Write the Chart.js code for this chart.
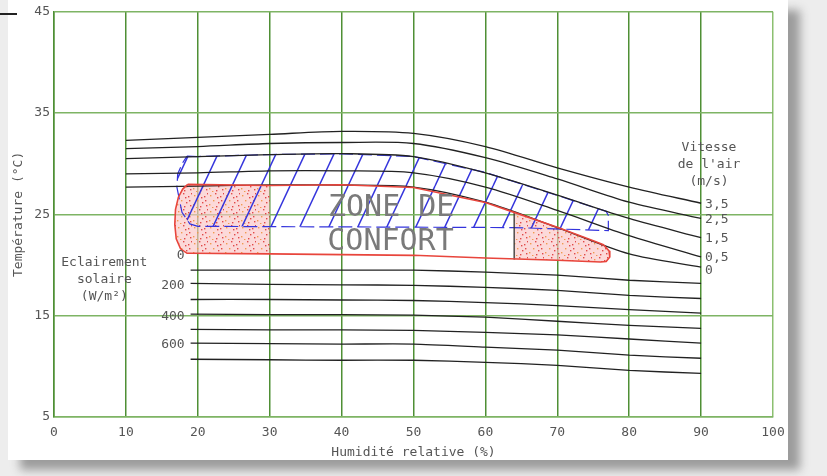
<!DOCTYPE html>
<html>
<head>
<meta charset="utf-8">
<script src="https://cdn.jsdelivr.net/npm/chart.js@4.4.1/dist/chart.umd.min.js"></script>
<style>
  html, body { margin: 0; padding: 0; background: #ededed; }
  #page { position: absolute; left: 8px; top: 0; width: 780px; height: 460px; background: #fff;
          box-shadow: 12px 10px 9px #9c9c9c; }
  #mark { position: absolute; left: 0; top: 13px; width: 17px; height: 2px; background: #222; }
  #wrap { position: absolute; left: 0; top: 0; width: 827px; height: 476px; }
</style>
</head>
<body>
<div id="page"></div>
<div id="mark"></div>
<div id="wrap"><canvas id="bioChart" width="827" height="476"></canvas></div>
<script>
// Humidity positions (%) for the air speed curves
const humidity = [10, 20, 30, 40, 50, 60, 70, 80, 90];
// Upper comfort limit (°C) for each air speed
const speed35 = [32.3, 32.6, 32.9, 33.2, 33.0, 31.7, 29.6, 27.7, 26.1];
const speed25 = [31.5, 31.7, 32.0, 32.1, 32.0, 30.6, 28.5, 26.2, 24.6];
const speed15 = [30.5, 30.7, 30.9, 31.0, 30.7, 29.1, 26.9, 24.6, 22.7];
const speed05 = [29.0, 29.1, 29.3, 29.3, 29.1, 27.7, 25.4, 22.9, 20.8];
const speed0  = [27.7, 27.8, 27.9, 27.9, 27.7, 26.2, 23.7, 21.1, 19.8];
const speedLabels = ['3,5', '2,5', '1,5', '0,5', '0'];

// Lower limit (°C) for each solar radiation level (100 W/m² steps)
const solarX   = [19, 30, 40, 50, 60, 70, 80, 90];
const solar100 = [19.5, 19.5, 19.5, 19.5, 19.3, 19.0, 18.5, 18.2];
const solar200 = [18.2, 18.1, 18.05, 18.0, 17.8, 17.5, 17.0, 16.7];
const solar300 = [16.6, 16.6, 16.55, 16.5, 16.3, 16.0, 15.6, 15.25];
const solar400 = [15.15, 15.1, 15.1, 15.05, 14.85, 14.45, 14.05, 13.75];
const solar500 = [13.65, 13.6, 13.6, 13.55, 13.35, 13.1, 12.7, 12.3];
const solar600 = [12.3, 12.25, 12.2, 12.2, 11.9, 11.6, 11.1, 10.8];
const solar700 = [10.7, 10.65, 10.6, 10.6, 10.4, 10.1, 9.6, 9.3];
const solarLabels = ['0', '200', '400', '600'];

// Comfort zone outline
const comfortX = [18.6, 30, 40, 50, 60, 64, 70, 75, 76.4, 77.2, 77.3, 76.8, 76, 70, 60, 50, 30, 19, 18.5, 17.6, 17.0, 16.8, 16.9, 17.3, 17.9, 18.6];
const comfortT = [27.96, 27.86, 27.93, 27.66, 26.18, 25.2, 23.72, 22.4, 22.0, 21.4, 20.8, 20.35, 20.3, 20.47, 20.7, 20.96, 21.1, 21.16, 21.16, 21.6, 22.6, 24.0, 25.5, 26.7, 27.5, 27.96];
// Dotted parts of the comfort zone
const dryX = [30, 18.6, 17.9, 17.3, 16.9, 16.8, 17.0, 17.6, 18.5, 19, 30, 30];
const dryT = [27.86, 27.96, 27.5, 26.7, 25.5, 24.0, 22.6, 21.6, 21.16, 21.16, 21.1, 27.86];
const wetX = [64, 70, 75, 76.4, 77.2, 77.3, 76.8, 76, 70, 64, 64];
const wetT = [25.2, 23.72, 22.4, 22.0, 21.4, 20.8, 20.35, 20.3, 20.47, 20.56, 25.2];
const dividerX = [64, 64];
const dividerT = [25.2, 20.56];
// Hatched zone (comfort extended by ventilation)
const ventX = [18.5, 20, 30, 40, 50, 60, 70, 76.8, 77.1, 77.1, 64, 20, 18.9, 17.8, 17.1, 17.2, 17.9, 18.5];
const ventT = [30.75, 30.71, 30.91, 30.98, 30.71, 29.14, 26.87, 25.3, 24.9, 23.4, 23.7, 23.82, 24.06, 25.2, 27.66, 29.0, 30.1, 30.75];

const FONT = '"DejaVu Sans Mono", monospace';
const TEXT = '#555';

function pts(xs, ys) { return xs.map((x, i) => ({ x: x, y: ys[i] })); }

function dotPattern() {
    const c = document.createElement('canvas');
    c.width = 16; c.height = 16;
    const g = c.getContext('2d');
    g.fillStyle = 'rgba(250, 196, 196, 0.65)';
    g.fillRect(0, 0, 16, 16);
    const dots = [[2, 3], [7, 1], [12, 4], [5, 8], [10, 10], [14, 13], [1, 12], [8, 14], [13, 8], [4, 15], [9, 5], [15, 1]];
    dots.forEach(([x, y], i) => {
        g.fillStyle = i % 3 === 0 ? '#f09a50' : '#e04a4a';
        g.fillRect(x, y, 1.4, 1.4);
    });
    return g.createPattern(c, 'repeat');
}

function hatchPattern() {
    const w = 29, h = 62;
    const c = document.createElement('canvas');
    c.width = w; c.height = h;
    const g = c.getContext('2d');
    g.strokeStyle = '#3434dc';
    g.lineWidth = 1.5;
    [-1, 0, 1].forEach(k => {
        g.beginPath();
        g.moveTo(k * w, h);
        g.lineTo(k * w + w, 0);
        g.stroke();
    });
    return g.createPattern(c, 'repeat');
}

const speedSeries = [speed35, speed25, speed15, speed05, speed0];
const solarSeries = [solar100, solar200, solar300, solar400, solar500, solar600, solar700];

const datasets = [];
datasets.push({ data: pts(dryX, dryT), showLine: true, pointRadius: 0, borderWidth: 0, fill: 'shape', backgroundColor: dotPattern(), order: 20 });
datasets.push({ data: pts(wetX, wetT), showLine: true, pointRadius: 0, borderWidth: 0, fill: 'shape', backgroundColor: dotPattern(), order: 20 });
datasets.push({ data: pts(ventX, ventT), showLine: true, pointRadius: 0, borderWidth: 1.2, borderColor: '#3434dc', borderDash: [14, 5], fill: 'shape', backgroundColor: hatchPattern(), order: 15 });
solarSeries.forEach(s => {
    datasets.push({ data: pts(solarX, s), showLine: true, pointRadius: 0, borderWidth: 1.3, borderColor: '#222', tension: 0.2, fill: false, order: 5 });
});
speedSeries.forEach(s => {
    datasets.push({ data: pts(humidity, s), showLine: true, pointRadius: 0, borderWidth: 1.3, borderColor: '#222', tension: 0.3, fill: false, order: 5 });
});
datasets.push({ data: pts(dividerX, dividerT), showLine: true, pointRadius: 0, borderWidth: 1.3, borderColor: '#333', fill: false, order: 2 });
datasets.push({ data: pts(comfortX, comfortT), showLine: true, pointRadius: 0, borderWidth: 1.6, borderColor: '#e8453c', fill: false, order: 1 });

const labelPlugin = {
    id: 'labels',
    afterDatasetsDraw(chart) {
        const { ctx, scales: { x, y } } = chart;
        ctx.save();
        ctx.fillStyle = TEXT;
        ctx.textBaseline = 'middle';

        // air speed values at the end of each curve
        ctx.font = '13px ' + FONT;
        ctx.textAlign = 'left';
        let prev = -Infinity;
        speedSeries.forEach((s, i) => {
            const py = Math.max(y.getPixelForValue(s[s.length - 1]) + 1, prev + 13);
            ctx.fillText(speedLabels[i], x.getPixelForValue(90) + 4, py);
            prev = py;
        });
        ctx.textAlign = 'center';
        const vx = x.getPixelForValue(91.1);
        ['Vitesse', "de l'air", '(m/s)'].forEach((t, i) => ctx.fillText(t, vx, y.getPixelForValue(31.6) + i * 17));

        // solar radiation values at the start of the lines
        const solarStart = [comfortT[17], solar200[0], solar400[0], solar600[0]];
        ctx.textAlign = 'right';
        solarStart.forEach((t, i) => {
            ctx.fillText(solarLabels[i], x.getPixelForValue(solarX[0]) - 6, y.getPixelForValue(t) + 2);
        });
        ctx.textAlign = 'center';
        const ex = x.getPixelForValue(7.0);
        ['Eclairement', 'solaire', '(W/m²)'].forEach((t, i) => ctx.fillText(t, ex, y.getPixelForValue(20.27) + i * 17));

        // zone title
        ctx.font = '30px ' + FONT;
        ctx.fillStyle = '#7a7a7a';
        ctx.fillText('ZONE DE', x.getPixelForValue(46.9), y.getPixelForValue(25.6));
        ctx.fillText('CONFORT', x.getPixelForValue(46.8), y.getPixelForValue(22.3));
        ctx.restore();
    }
};

new Chart(document.getElementById('bioChart'), {
    type: 'scatter',
    data: { datasets: datasets },
    options: {
        responsive: false,
        animation: false,
        layout: { padding: { left: 0, right: 54, top: 11, bottom: 0 } },
        plugins: { legend: { display: false }, tooltip: { enabled: false } },
        scales: {
            x: {
                type: 'linear', min: 0, max: 100,
                ticks: { stepSize: 10, padding: 8, color: TEXT, font: { family: FONT, size: 13 } },
                grid: {
                    drawTicks: false, lineWidth: 1.5,
                    color: c => c.tick && c.tick.value === 100 ? '#8cc070' : '#4f8f35'
                },
                border: { color: '#7eb464', width: 1.5 },
                title: { display: true, text: 'Humidité relative (%)', color: TEXT, font: { family: FONT, size: 13 }, padding: { bottom: 16, top: 0 } },
                afterFit: s => { s.height = 59; }
            },
            y: {
                type: 'linear', min: 5, max: 45,
                ticks: { stepSize: 10, padding: 4, color: TEXT, font: { family: FONT, size: 13 } },
                grid: { drawTicks: false, lineWidth: 1.5, color: '#7eb464' },
                border: { color: '#4f8f35', width: 1.5 },
                title: { display: true, text: 'Température (°C)', color: TEXT, font: { family: FONT, size: 13 }, padding: { top: 11, bottom: 0 } },
                afterFit: s => { s.width = 54; }
            }
        }
    },
    plugins: [labelPlugin]
});
</script>
</body>
</html>
